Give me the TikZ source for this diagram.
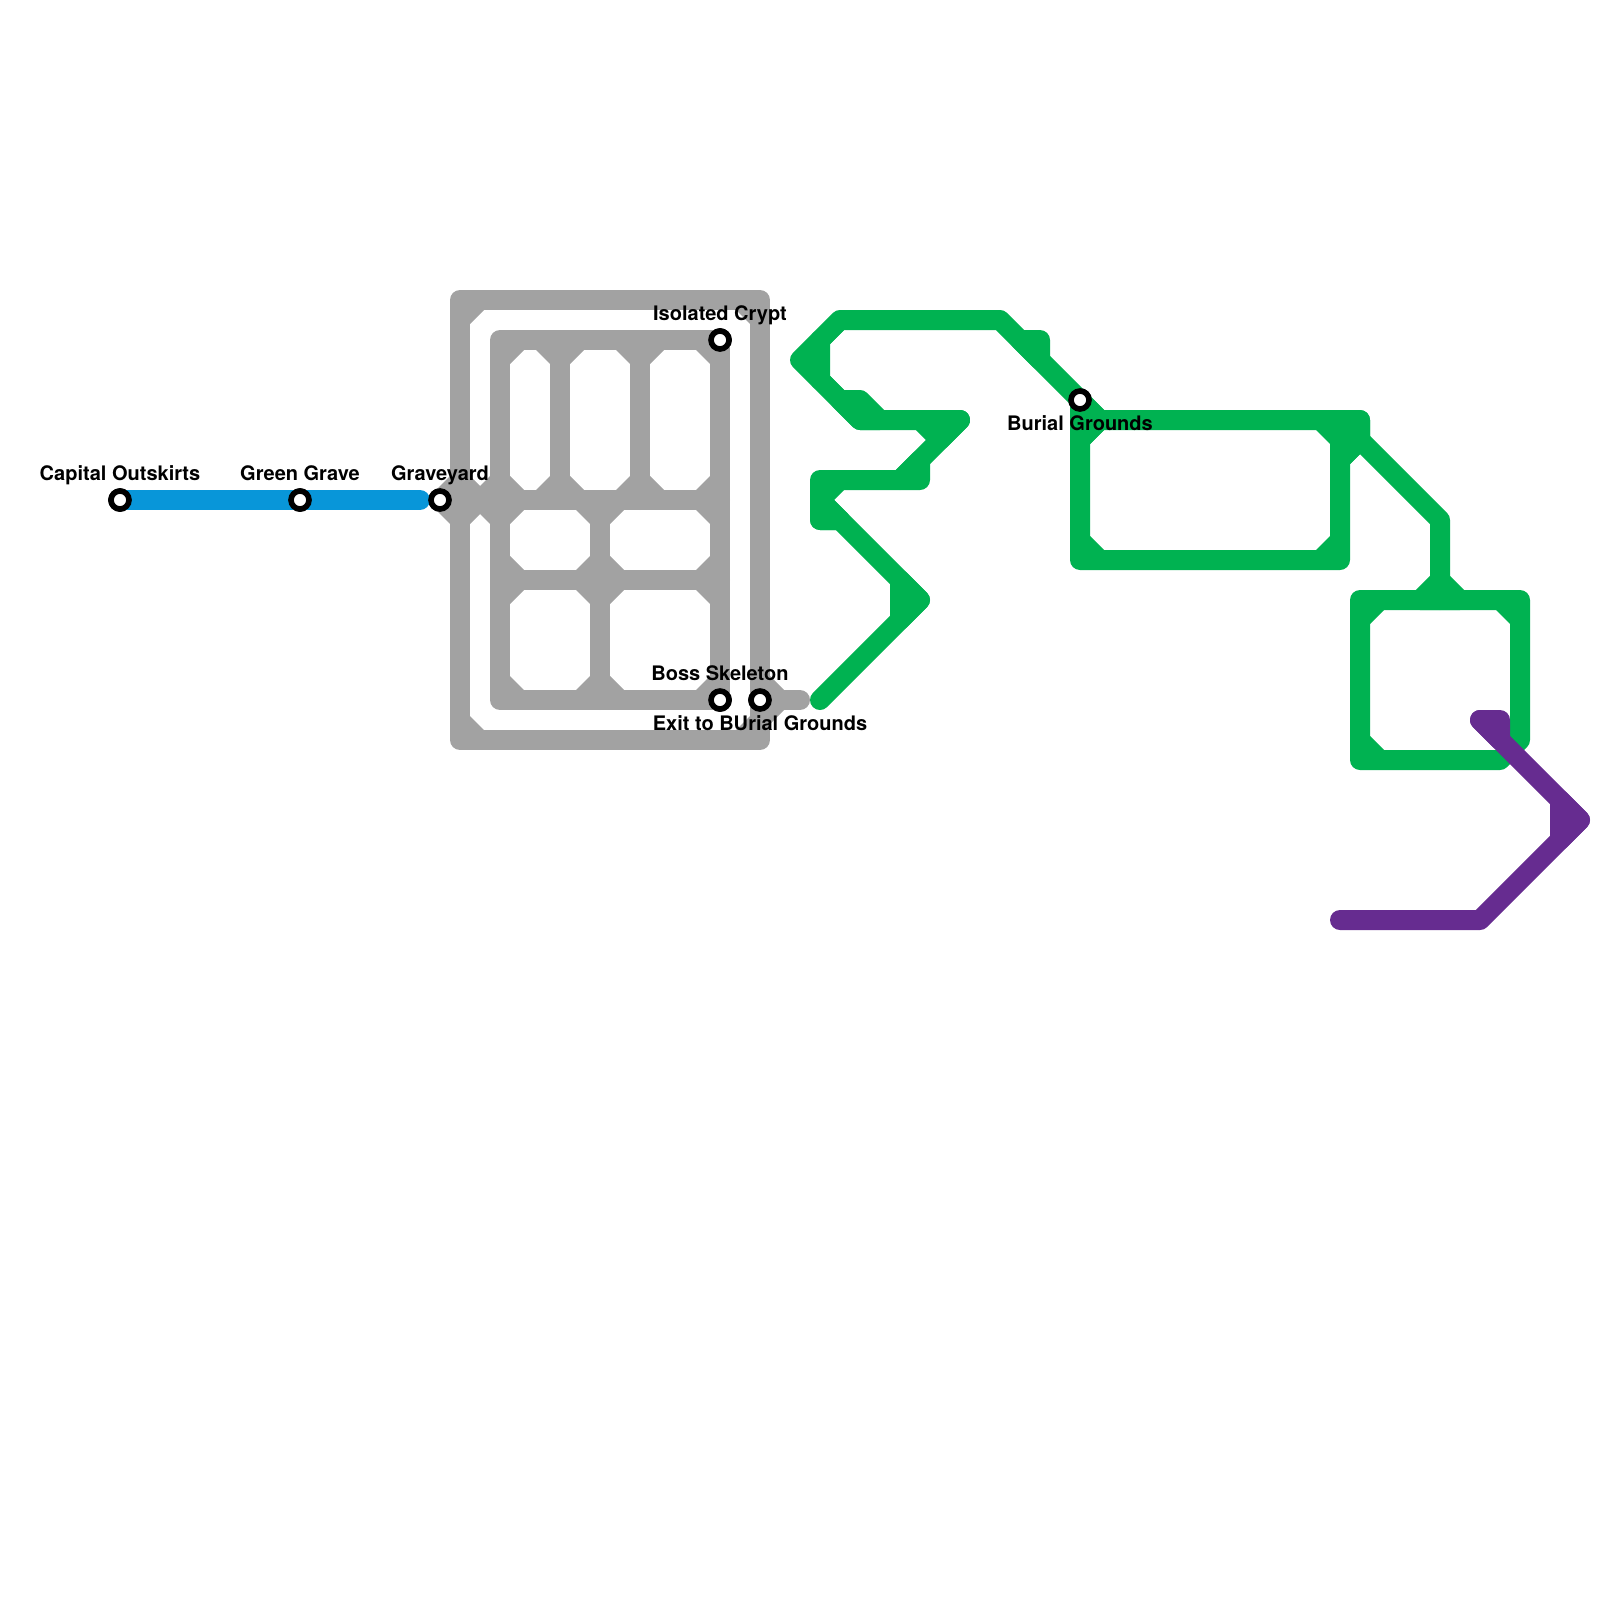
\documentclass[tikz,border=0pt]{standalone}
\usepackage{fontspec}
\setmainfont{TeX Gyre Heros}
\definecolor{lgray}{HTML}{A2A2A2}
\definecolor{lgreen}{HTML}{00B251}
\definecolor{lblue}{HTML}{0896D9}
\definecolor{lpurple}{HTML}{662C90}
\tikzset{
  mline/.style={line width=20pt,line cap=round,line join=round},
  stn/.style={circle,draw=black,fill=white,line width=5.6pt,minimum size=18pt,inner sep=0pt},
  lbl/.style={font=\bfseries\fontsize{20}{22}\selectfont,inner sep=0pt,anchor=base,text=black},
}
% chamfer: inner corner (x,y), directions sx,sy pointing into the hole
\newcommand{\chf}[4]{\fill (#1,#2) -- ++(#3*14,0) -- (#1,#2+#4*14) -- cycle;}
\newcommand{\hole}[4]{\chf{#1}{#2}{1}{1}\chf{#3}{#2}{-1}{1}\chf{#1}{#4}{1}{-1}\chf{#3}{#4}{-1}{-1}}
\begin{document}
\begin{tikzpicture}[x=1pt,y=-1pt]
\useasboundingbox (0,0) rectangle (1600,1600);
% stations (named first, so that lines can refer to them)
\node[stn] (cap) at (120,500) {};
\node[stn] (gg) at (300,500) {};
\node[stn] (gy) at (440,500) {};
\node[stn] (ic) at (720,340) {};
\node[stn] (bs) at (720,700) {};
\node[stn] (ex) at (760,700) {};
\node[stn] (bg) at (1080,400) {};
\coordinate (bend) at (420,500);
\coordinate (gend) at (800,700);
% gray line
\begin{scope}[lgray]
\draw[mline,lgray] (460,740) -- (460,300) -- (760,300) -- (760,740) -- cycle;
\draw[mline,lgray] (ex.center) -- (gend);
\draw[mline,lgray] (500,340) -- (ic.center) -- (bs.center) -- (500,700) -- cycle;
\draw[mline,lgray] (gy.center) -- (720,500);
\draw[mline,lgray] (500,580) -- (720,580);
\draw[mline,lgray] (560,340) -- (560,500) (640,340) -- (640,500) (600,500) -- (600,700);
\chf{470}{310}{1}{1}\chf{750}{310}{-1}{1}\chf{470}{730}{1}{-1}\chf{750}{730}{-1}{-1}
\chf{470}{490}{1}{-1}\chf{490}{490}{-1}{-1}\chf{470}{510}{1}{1}\chf{490}{510}{-1}{1}
\chf{450}{490}{-1}{-1}\chf{450}{510}{-1}{1}
\chf{770}{690}{1}{-1}\chf{770}{710}{1}{1}
\hole{510}{350}{550}{490}
\hole{570}{350}{630}{490}
\hole{650}{350}{710}{490}
\hole{510}{510}{590}{570}
\hole{610}{510}{710}{570}
\hole{510}{590}{590}{690}
\hole{610}{590}{710}{690}
\end{scope}
% blue line
\draw[mline,lblue] (cap.center) -- (gg.center) -- (bend);
% green line
\begin{scope}[lgreen]
\draw[mline,lgreen,fill=lgreen] (820,380) -- (800,360) -- (820,340) -- cycle;
\draw[mline,lgreen] (820,340) -- (840,320) -- (1000,320) -- (bg.center) -- (1100,420) -- (1360,420) -- (1360,440) -- (1340,460) -- (1340,560) -- (1080,560) -- (bg.center);
\draw[mline,lgreen,fill=lgreen] (1080,400) -- (1100,420) -- (1080,440) -- cycle;
\draw[mline,lgreen] (1340,420) -- (1340,460);
\draw[mline,lgreen,fill=lgreen] (1340,420) -- (1360,420) -- (1360,440) -- (1340,460) -- cycle;
\draw[mline,lgreen,fill=lgreen] (1020,340) -- (1040,340) -- (1040,360) -- cycle;
\draw[mline,lgreen] (820,380) -- (860,420) -- (960,420) -- (900,480) -- (820,480) -- (820,520) -- (840,520);
\draw[mline,lgreen,fill=lgreen] (840,400) -- (860,400) -- (880,420) -- (860,420) -- cycle;
\draw[mline,lgreen,fill=lgreen] (920,420) -- (960,420) -- (940,440) -- cycle;
\draw[mline,lgreen,fill=lgreen] (920,460) -- (920,480) -- (900,480) -- cycle;
\draw[mline,lgreen] (820,500) -- (920,600) -- (820,700);
\draw[mline,lgreen,fill=lgreen] (900,580) -- (920,600) -- (900,620) -- cycle;
\draw[mline,lgreen,fill=lgreen] (820,500) -- (840,520) -- (820,520) -- cycle;
\draw[mline,lgreen] (1340,420) -- (1440,520) -- (1440,600);
\draw[mline,lgreen,fill=lgreen] (1420,600) -- (1440,580) -- (1460,600) -- cycle;
\draw[mline,lgreen] (1360,600) -- (1520,600) -- (1520,740) -- (1500,760) -- (1360,760) -- cycle;
\chf{830}{330}{1}{1}\chf{830}{390}{1}{-1}\chf{830}{490}{1}{1}
\hole{1090}{430}{1330}{550}
\hole{1370}{610}{1510}{750}
\end{scope}
% purple line
\draw[mline,lpurple,fill=lpurple] (1480,720) -- (1500,720) -- (1500,740) -- cycle;
\draw[mline,lpurple] (1480,720) -- (1580,820) -- (1480,920) -- (1340,920);
\draw[mline,lpurple,fill=lpurple] (1560,800) -- (1580,820) -- (1560,840) -- cycle;
% stations drawn again above the lines
\node[stn] at (cap) {};
\node[stn] at (gg) {};
\node[stn] at (gy) {};
\node[stn] at (ic) {};
\node[stn] at (bs) {};
\node[stn] at (ex) {};
\node[stn] at (bg) {};
% labels
\node[lbl] (lcap) at (120,480) {Capital Outskirts};
\node[lbl] (lgg) at (300,480) {Green Grave};
\node[lbl] (lgy) at (440,480) {Graveyard};
\node[lbl] (lic) at (720,320) {Isolated Crypt};
\node[lbl] (lbs) at (720,680) {Boss Skeleton};
\node[lbl] (lex) at (760,730) {Exit to BUrial Grounds};
\node[lbl] (lbg) at (1080,430) {Burial Grounds};
\end{tikzpicture}
\end{document}
